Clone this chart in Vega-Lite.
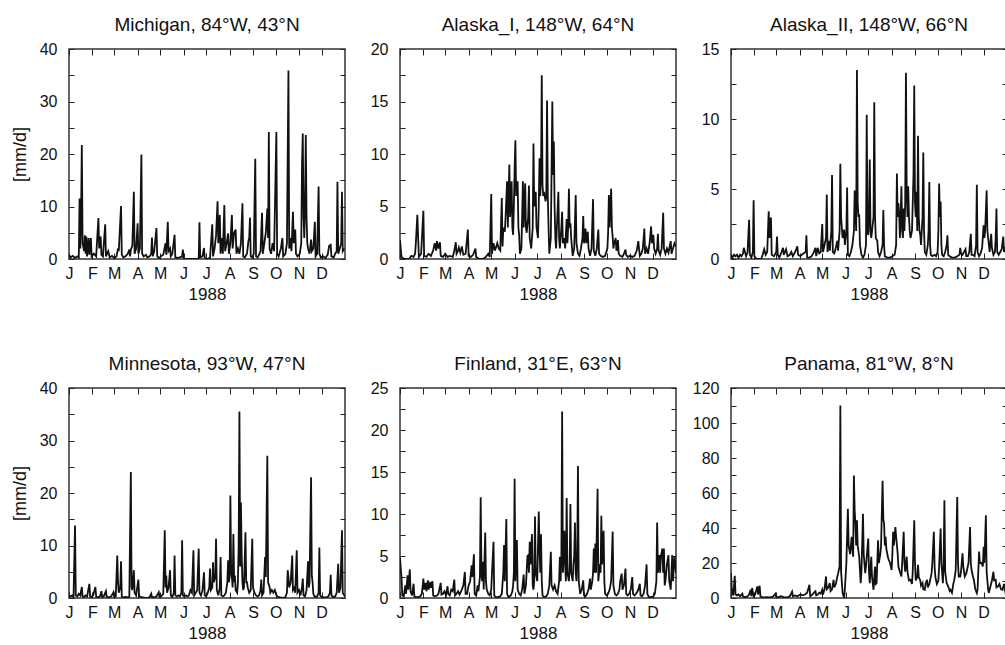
{
"$schema": "https://vega.github.io/schema/vega-lite/v6.json",
"background": "white",
"padding": {"left": 10, "top": 15, "right": 0, "bottom": 0},
"config": {
 "view": {"stroke": "#333", "strokeWidth": 1.5},
 "font": "Liberation Sans",
 "title": {"fontSize": 19, "fontWeight": "normal", "color": "#111", "font": "Liberation Sans", "offset": 6},
 "axis": {"domain": false, "grid": false, "tickSize": -5, "tickColor": "#222", "tickWidth": 1, "labelFont": "Liberation Sans", "labelFontSize": 16, "labelColor": "#111", "titleFont": "Liberation Sans", "titleFontSize": 17, "titleFontWeight": "normal", "titleColor": "#111", "labelOverlap": false, "labelFlush": false, "labelBound": false},
 "axisX": {"tickSize": -6, "labelPadding": 12, "labelAngle": 0, "titlePadding": 5},
 "axisY": {"labelPadding": 17, "titlePadding": 10, "titleFontSize": 18}
},
"bounds": "flush",
"columns": 3,
"spacing": {"row": 129, "column": 55},
"datasets": {
"mi": [{"d":0,"v":0.8},{"d":2,"v":0.3},{"d":5,"v":0.6},{"d":8,"v":0.2},{"d":11,"v":0.5},{"d":13,"v":0.3},{"d":14,"v":11.5},{"d":15,"v":2},{"d":16,"v":8},{"d":17,"v":21.7},{"d":18,"v":3},{"d":20,"v":1.5},{"d":21,"v":4.5},{"d":22,"v":1},{"d":23,"v":4.3},{"d":24,"v":0.5},{"d":26,"v":4},{"d":27,"v":0.8},{"d":29,"v":4},{"d":30,"v":0.5},{"d":33,"v":1},{"d":36,"v":0.5},{"d":39,"v":7.8},{"d":40,"v":2},{"d":42,"v":4.3},{"d":43,"v":0.8},{"d":45,"v":0.5},{"d":48,"v":6.6},{"d":49,"v":0.5},{"d":52,"v":1.5},{"d":54,"v":0.3},{"d":57,"v":0.6},{"d":60,"v":0.2},{"d":63,"v":0.5},{"d":65,"v":2},{"d":66,"v":1.5},{"d":69,"v":10.1},{"d":70,"v":0.8},{"d":72,"v":0.3},{"d":75,"v":0.5},{"d":78,"v":1},{"d":80,"v":1.8},{"d":81,"v":0.5},{"d":82,"v":1.8},{"d":84,"v":2.5},{"d":86,"v":12.8},{"d":87,"v":1},{"d":89,"v":2},{"d":91,"v":6.8},{"d":92,"v":1},{"d":94,"v":2},{"d":96,"v":19.9},{"d":97,"v":1},{"d":99,"v":0.5},{"d":102,"v":0.8},{"d":104,"v":0.3},{"d":107,"v":0.5},{"d":109,"v":1},{"d":110,"v":4.1},{"d":111,"v":0.5},{"d":113,"v":1.5},{"d":116,"v":5.9},{"d":117,"v":0.5},{"d":119,"v":0.2},{"d":122,"v":0.5},{"d":125,"v":0.8},{"d":128,"v":3},{"d":129,"v":0.8},{"d":131,"v":7.1},{"d":132,"v":1.5},{"d":134,"v":2},{"d":135,"v":0.5},{"d":137,"v":1},{"d":140,"v":4.6},{"d":141,"v":0.3},{"d":144,"v":0.2},{"d":147,"v":0.3},{"d":150,"v":0.5},{"d":151,"v":1.8},{"d":152,"v":0},{"d":172,"v":0},{"d":173,"v":7},{"d":174,"v":0.3},{"d":177,"v":0.5},{"d":179,"v":2.1},{"d":180,"v":0.2},{"d":183,"v":0},{"d":187,"v":0.2},{"d":190,"v":6.6},{"d":191,"v":0.5},{"d":193,"v":2},{"d":195,"v":4.5},{"d":197,"v":11},{"d":198,"v":3},{"d":199,"v":5},{"d":200,"v":8.4},{"d":201,"v":1},{"d":203,"v":4},{"d":204,"v":1},{"d":206,"v":10.3},{"d":207,"v":1.5},{"d":209,"v":3},{"d":211,"v":4.9},{"d":212,"v":1},{"d":214,"v":3},{"d":216,"v":8.4},{"d":217,"v":2},{"d":219,"v":5},{"d":221,"v":5.6},{"d":222,"v":1},{"d":224,"v":2},{"d":226,"v":1},{"d":228,"v":3},{"d":230,"v":10.6},{"d":231,"v":0.5},{"d":233,"v":0.3},{"d":236,"v":1},{"d":238,"v":3.5},{"d":239,"v":4},{"d":240,"v":7.9},{"d":241,"v":0.5},{"d":243,"v":0.3},{"d":245,"v":1},{"d":247,"v":19.1},{"d":248,"v":0.5},{"d":250,"v":0.3},{"d":252,"v":0.8},{"d":254,"v":1.5},{"d":256,"v":8.8},{"d":257,"v":1},{"d":259,"v":3},{"d":261,"v":5},{"d":263,"v":9.6},{"d":264,"v":4},{"d":265,"v":24.2},{"d":266,"v":2},{"d":268,"v":1},{"d":270,"v":3},{"d":272,"v":1.5},{"d":275,"v":24.2},{"d":276,"v":1},{"d":278,"v":0.5},{"d":281,"v":2},{"d":283,"v":4},{"d":284,"v":0.5},{"d":287,"v":1},{"d":289,"v":3},{"d":291,"v":35.9},{"d":292,"v":2},{"d":294,"v":4},{"d":295,"v":1.5},{"d":297,"v":9},{"d":298,"v":3},{"d":300,"v":5.6},{"d":301,"v":1},{"d":303,"v":0.5},{"d":306,"v":1},{"d":308,"v":3},{"d":309,"v":18},{"d":310,"v":23.9},{"d":311,"v":8},{"d":312,"v":4},{"d":313,"v":10},{"d":314,"v":23.6},{"d":315,"v":8},{"d":316,"v":3},{"d":317,"v":2},{"d":319,"v":1},{"d":321,"v":3.7},{"d":322,"v":1.5},{"d":324,"v":2},{"d":326,"v":7.1},{"d":327,"v":0.5},{"d":329,"v":1},{"d":331,"v":13.8},{"d":332,"v":1},{"d":334,"v":0.3},{"d":337,"v":0.5},{"d":340,"v":0.2},{"d":343,"v":0.8},{"d":345,"v":2.5},{"d":347,"v":2.7},{"d":348,"v":0.5},{"d":351,"v":0.3},{"d":353,"v":1},{"d":355,"v":1.5},{"d":356,"v":14.7},{"d":357,"v":1},{"d":359,"v":2},{"d":361,"v":3},{"d":362,"v":12.8},{"d":363,"v":1.5},{"d":365,"v":2}],
"a1": [{"d":0,"v":1.8},{"d":2,"v":0.2},{"d":5,"v":0},{"d":12,"v":0},{"d":15,"v":0.3},{"d":18,"v":0.2},{"d":20,"v":0.5},{"d":21,"v":1.5},{"d":23,"v":4.2},{"d":25,"v":0.2},{"d":28,"v":0.5},{"d":31,"v":4.6},{"d":32,"v":0.3},{"d":35,"v":0.2},{"d":38,"v":0.5},{"d":41,"v":0.3},{"d":44,"v":0.8},{"d":46,"v":1.5},{"d":48,"v":0.8},{"d":49,"v":1.7},{"d":51,"v":1},{"d":53,"v":1.6},{"d":54,"v":0.3},{"d":57,"v":0.2},{"d":60,"v":0.5},{"d":63,"v":0.2},{"d":66,"v":0.3},{"d":70,"v":0.2},{"d":72,"v":0.8},{"d":74,"v":1.6},{"d":75,"v":0.5},{"d":77,"v":0.8},{"d":78,"v":1.1},{"d":80,"v":0.6},{"d":82,"v":1.2},{"d":84,"v":0.4},{"d":87,"v":0.5},{"d":90,"v":2.8},{"d":91,"v":0.3},{"d":94,"v":0.2},{"d":97,"v":0.4},{"d":100,"v":1},{"d":101,"v":0.2},{"d":105,"v":0},{"d":110,"v":0},{"d":114,"v":0.2},{"d":117,"v":0.5},{"d":119,"v":0.2},{"d":121,"v":6.2},{"d":122,"v":0.5},{"d":124,"v":1.5},{"d":126,"v":0.8},{"d":129,"v":1.5},{"d":131,"v":1},{"d":133,"v":0.8},{"d":135,"v":5.8},{"d":136,"v":1.2},{"d":137,"v":3},{"d":139,"v":2.6},{"d":140,"v":4},{"d":142,"v":7.4},{"d":143,"v":3},{"d":145,"v":9},{"d":146,"v":4},{"d":148,"v":7.4},{"d":149,"v":3},{"d":150,"v":2.3},{"d":151,"v":5},{"d":152,"v":8.6},{"d":153,"v":11.3},{"d":154,"v":6},{"d":156,"v":7.4},{"d":157,"v":3},{"d":158,"v":2.3},{"d":159,"v":0.5},{"d":161,"v":1},{"d":163,"v":7.4},{"d":164,"v":3},{"d":165,"v":5},{"d":166,"v":7.2},{"d":167,"v":3},{"d":168,"v":2.5},{"d":170,"v":4},{"d":171,"v":7},{"d":172,"v":2},{"d":174,"v":1},{"d":176,"v":3},{"d":177,"v":11},{"d":178,"v":5},{"d":180,"v":6.4},{"d":181,"v":3},{"d":183,"v":2},{"d":184,"v":5},{"d":185,"v":9.6},{"d":186,"v":6},{"d":187,"v":8},{"d":188,"v":17.5},{"d":189,"v":7},{"d":190,"v":6},{"d":191,"v":6.4},{"d":193,"v":5.5},{"d":194,"v":6},{"d":195,"v":15.1},{"d":196,"v":6},{"d":197,"v":3},{"d":198,"v":0.5},{"d":200,"v":2},{"d":202,"v":15},{"d":203,"v":8},{"d":204,"v":11.2},{"d":205,"v":5},{"d":206,"v":2},{"d":207,"v":1},{"d":208,"v":3},{"d":210,"v":6.4},{"d":211,"v":2},{"d":212,"v":1},{"d":214,"v":3},{"d":215,"v":4.5},{"d":216,"v":1.5},{"d":218,"v":2},{"d":219,"v":1},{"d":221,"v":3.8},{"d":222,"v":1.5},{"d":223,"v":3},{"d":224,"v":6.7},{"d":225,"v":3},{"d":226,"v":3.4},{"d":227,"v":2},{"d":229,"v":0.3},{"d":231,"v":1},{"d":233,"v":6.1},{"d":234,"v":1.5},{"d":236,"v":0.5},{"d":238,"v":0.3},{"d":240,"v":1},{"d":242,"v":2},{"d":243,"v":4.1},{"d":244,"v":1.5},{"d":245,"v":2},{"d":246,"v":2.9},{"d":247,"v":1.5},{"d":249,"v":2.6},{"d":250,"v":1},{"d":252,"v":0.3},{"d":254,"v":1},{"d":256,"v":5.7},{"d":257,"v":0.8},{"d":259,"v":0.3},{"d":261,"v":1},{"d":263,"v":2.8},{"d":264,"v":0.5},{"d":266,"v":0.3},{"d":269,"v":0.2},{"d":272,"v":0.3},{"d":275,"v":1},{"d":276,"v":2.5},{"d":277,"v":6.1},{"d":278,"v":3},{"d":280,"v":6.7},{"d":281,"v":3},{"d":282,"v":2.1},{"d":283,"v":1},{"d":284,"v":1.5},{"d":286,"v":2},{"d":287,"v":0.8},{"d":288,"v":1},{"d":289,"v":1.8},{"d":290,"v":0.5},{"d":292,"v":0.3},{"d":295,"v":0.2},{"d":297,"v":0.5},{"d":299,"v":0.9},{"d":300,"v":0.4},{"d":302,"v":0.2},{"d":305,"v":0.3},{"d":308,"v":0.2},{"d":311,"v":0.3},{"d":314,"v":0.8},{"d":316,"v":1.7},{"d":317,"v":1},{"d":318,"v":0.3},{"d":320,"v":0.5},{"d":322,"v":1},{"d":324,"v":2.9},{"d":325,"v":0.5},{"d":327,"v":1},{"d":329,"v":0.5},{"d":331,"v":1.5},{"d":333,"v":3.1},{"d":334,"v":1.5},{"d":336,"v":2.3},{"d":337,"v":1},{"d":339,"v":0.5},{"d":341,"v":1},{"d":342,"v":2.4},{"d":343,"v":0.8},{"d":345,"v":0.4},{"d":347,"v":1},{"d":349,"v":4.4},{"d":350,"v":1},{"d":352,"v":0.5},{"d":354,"v":1},{"d":356,"v":0.6},{"d":359,"v":1.7},{"d":360,"v":0.5},{"d":362,"v":1},{"d":364,"v":1.5},{"d":366,"v":1.2}],
"a2": [{"d":0,"v":0.3},{"d":2,"v":0.1},{"d":4,"v":0.3},{"d":6,"v":0.2},{"d":8,"v":0.3},{"d":10,"v":0.1},{"d":12,"v":0.3},{"d":14,"v":0.2},{"d":16,"v":0.4},{"d":17,"v":0.8},{"d":18,"v":0.6},{"d":20,"v":0.2},{"d":22,"v":0.5},{"d":24,"v":2.8},{"d":25,"v":0.3},{"d":27,"v":0.1},{"d":29,"v":0.5},{"d":30,"v":4.2},{"d":31,"v":0.2},{"d":34,"v":0},{"d":40,"v":0},{"d":42,"v":0.3},{"d":44,"v":0.7},{"d":46,"v":0.3},{"d":48,"v":0.5},{"d":50,"v":3.4},{"d":51,"v":1.5},{"d":52,"v":2.9},{"d":53,"v":2.9},{"d":54,"v":0.3},{"d":57,"v":0.2},{"d":60,"v":0.5},{"d":61,"v":1.6},{"d":62,"v":0.3},{"d":64,"v":0.1},{"d":67,"v":0.5},{"d":69,"v":0.8},{"d":70,"v":0.3},{"d":73,"v":0.7},{"d":75,"v":0.2},{"d":78,"v":0.3},{"d":80,"v":0.5},{"d":82,"v":0.2},{"d":85,"v":0.5},{"d":88,"v":0.9},{"d":89,"v":0.3},{"d":92,"v":0.2},{"d":96,"v":0.4},{"d":99,"v":0.5},{"d":100,"v":1.7},{"d":101,"v":0.1},{"d":104,"v":0.1},{"d":107,"v":0.2},{"d":110,"v":0.5},{"d":112,"v":0.8},{"d":113,"v":0.2},{"d":115,"v":0.8},{"d":117,"v":0.4},{"d":119,"v":0.5},{"d":121,"v":2.5},{"d":122,"v":0.5},{"d":124,"v":1},{"d":126,"v":1.5},{"d":127,"v":4.6},{"d":128,"v":0.5},{"d":130,"v":1.3},{"d":131,"v":0.6},{"d":133,"v":2},{"d":134,"v":6},{"d":135,"v":0.5},{"d":137,"v":0.4},{"d":139,"v":0.8},{"d":141,"v":1.3},{"d":142,"v":0.6},{"d":144,"v":2},{"d":145,"v":6.8},{"d":146,"v":3},{"d":148,"v":1.5},{"d":150,"v":2.1},{"d":151,"v":1},{"d":153,"v":2},{"d":154,"v":5.1},{"d":155,"v":0.3},{"d":157,"v":0.2},{"d":159,"v":0.5},{"d":161,"v":1},{"d":163,"v":2},{"d":164,"v":4.9},{"d":165,"v":3.5},{"d":166,"v":2},{"d":167,"v":13.5},{"d":168,"v":4},{"d":169,"v":3},{"d":170,"v":3.2},{"d":171,"v":1},{"d":173,"v":0.3},{"d":175,"v":0.1},{"d":177,"v":0.3},{"d":179,"v":1},{"d":180,"v":10.3},{"d":181,"v":2},{"d":182,"v":1.7},{"d":183,"v":3},{"d":184,"v":7.1},{"d":185,"v":2},{"d":186,"v":1.5},{"d":187,"v":2},{"d":189,"v":3},{"d":190,"v":11.2},{"d":191,"v":3},{"d":192,"v":1.5},{"d":194,"v":1.3},{"d":195,"v":0.5},{"d":197,"v":0.2},{"d":199,"v":0.5},{"d":201,"v":1},{"d":202,"v":3.5},{"d":203,"v":1},{"d":204,"v":0.2},{"d":207,"v":0.1},{"d":211,"v":0.1},{"d":214,"v":0.2},{"d":217,"v":0.3},{"d":219,"v":1},{"d":220,"v":6.1},{"d":221,"v":3},{"d":222,"v":4},{"d":223,"v":3.2},{"d":224,"v":1.5},{"d":225,"v":3},{"d":226,"v":5.2},{"d":227,"v":2},{"d":228,"v":1.5},{"d":229,"v":3.6},{"d":230,"v":2},{"d":231,"v":4},{"d":232,"v":13.3},{"d":233,"v":5},{"d":234,"v":3},{"d":235,"v":5.2},{"d":236,"v":3},{"d":237,"v":2},{"d":238,"v":1.5},{"d":240,"v":2},{"d":241,"v":4},{"d":242,"v":6},{"d":243,"v":12.4},{"d":244,"v":4},{"d":245,"v":3},{"d":246,"v":4.8},{"d":247,"v":2},{"d":248,"v":8.8},{"d":249,"v":3},{"d":250,"v":2},{"d":251,"v":1.7},{"d":252,"v":1},{"d":254,"v":3},{"d":255,"v":7.6},{"d":256,"v":2},{"d":257,"v":0.5},{"d":259,"v":0.3},{"d":261,"v":1},{"d":262,"v":2},{"d":263,"v":5.5},{"d":264,"v":1},{"d":265,"v":0.3},{"d":267,"v":0.2},{"d":270,"v":0.3},{"d":272,"v":0.2},{"d":274,"v":0.5},{"d":275,"v":2},{"d":276,"v":5.4},{"d":277,"v":3},{"d":278,"v":4.1},{"d":279,"v":1},{"d":280,"v":0.3},{"d":282,"v":0.2},{"d":284,"v":0.5},{"d":286,"v":1},{"d":287,"v":1.7},{"d":288,"v":0.3},{"d":290,"v":0.2},{"d":293,"v":0.1},{"d":297,"v":0.1},{"d":300,"v":0.2},{"d":303,"v":0.3},{"d":304,"v":0.8},{"d":305,"v":0.4},{"d":307,"v":0.3},{"d":309,"v":0.5},{"d":311,"v":0.7},{"d":312,"v":0.2},{"d":314,"v":0.2},{"d":316,"v":0.5},{"d":318,"v":1.8},{"d":319,"v":0.3},{"d":321,"v":0.3},{"d":323,"v":0.2},{"d":325,"v":1},{"d":326,"v":5.3},{"d":327,"v":0.5},{"d":329,"v":0.2},{"d":331,"v":0.4},{"d":333,"v":0.8},{"d":335,"v":2.4},{"d":336,"v":1.5},{"d":337,"v":2},{"d":339,"v":4.9},{"d":340,"v":2},{"d":341,"v":1.5},{"d":343,"v":0.5},{"d":345,"v":1.8},{"d":346,"v":0.8},{"d":348,"v":0.3},{"d":350,"v":0.5},{"d":351,"v":1.5},{"d":352,"v":3.6},{"d":353,"v":0.5},{"d":355,"v":0.3},{"d":357,"v":0.5},{"d":359,"v":0.7},{"d":361,"v":1.6},{"d":362,"v":0.5},{"d":364,"v":0.8},{"d":366,"v":0.4}],
"mn": [{"d":0,"v":0.5},{"d":2,"v":0.3},{"d":4,"v":0.5},{"d":6,"v":0.2},{"d":8,"v":13.8},{"d":9,"v":0.5},{"d":11,"v":0.3},{"d":13,"v":0.8},{"d":15,"v":0.5},{"d":17,"v":2.1},{"d":18,"v":0.3},{"d":20,"v":0.2},{"d":22,"v":0.5},{"d":24,"v":0.3},{"d":27,"v":2.7},{"d":28,"v":0.3},{"d":30,"v":0.2},{"d":32,"v":0.5},{"d":35,"v":2.1},{"d":36,"v":0.3},{"d":38,"v":0.1},{"d":41,"v":0.3},{"d":43,"v":1.3},{"d":44,"v":0.2},{"d":46,"v":0.3},{"d":49,"v":1.3},{"d":50,"v":0.2},{"d":53,"v":0.1},{"d":56,"v":0.3},{"d":59,"v":1.1},{"d":60,"v":0.2},{"d":62,"v":0.3},{"d":64,"v":8.1},{"d":65,"v":3},{"d":66,"v":1},{"d":68,"v":2},{"d":69,"v":7},{"d":70,"v":0.3},{"d":72,"v":0.1},{"d":75,"v":0.2},{"d":78,"v":0.1},{"d":80,"v":0.3},{"d":82,"v":24},{"d":83,"v":2},{"d":84,"v":1.5},{"d":86,"v":5.3},{"d":87,"v":1},{"d":89,"v":0.5},{"d":92,"v":3.5},{"d":93,"v":0.3},{"d":95,"v":0.2},{"d":98,"v":0.1},{"d":101,"v":0},{"d":105,"v":0},{"d":107,"v":0.2},{"d":109,"v":0.8},{"d":110,"v":0.2},{"d":113,"v":0.1},{"d":116,"v":0.3},{"d":119,"v":1.1},{"d":120,"v":0.2},{"d":122,"v":0.3},{"d":125,"v":0.8},{"d":127,"v":12.9},{"d":128,"v":2},{"d":129,"v":4.3},{"d":130,"v":1},{"d":132,"v":2},{"d":134,"v":5.3},{"d":135,"v":0.5},{"d":137,"v":0.2},{"d":139,"v":1},{"d":140,"v":8.1},{"d":141,"v":0.5},{"d":143,"v":0.3},{"d":145,"v":0.5},{"d":147,"v":0.3},{"d":149,"v":1},{"d":150,"v":11},{"d":151,"v":0.5},{"d":153,"v":0.3},{"d":155,"v":0.5},{"d":157,"v":0.3},{"d":159,"v":0.5},{"d":161,"v":1.5},{"d":163,"v":1},{"d":165,"v":9.1},{"d":166,"v":0.5},{"d":168,"v":1},{"d":170,"v":1.5},{"d":172,"v":9.4},{"d":173,"v":1},{"d":175,"v":0.5},{"d":177,"v":1.5},{"d":179,"v":4.9},{"d":180,"v":0.5},{"d":182,"v":0.3},{"d":184,"v":1},{"d":186,"v":2},{"d":187,"v":5.6},{"d":188,"v":1.5},{"d":190,"v":2},{"d":191,"v":6.8},{"d":192,"v":3},{"d":194,"v":4},{"d":195,"v":11.3},{"d":196,"v":1.5},{"d":198,"v":0.5},{"d":200,"v":2},{"d":201,"v":7.8},{"d":202,"v":0.5},{"d":204,"v":0.3},{"d":206,"v":0.5},{"d":208,"v":1},{"d":210,"v":3},{"d":211,"v":7.2},{"d":212,"v":3},{"d":213,"v":4},{"d":214,"v":19.5},{"d":215,"v":5},{"d":216,"v":4},{"d":217,"v":2},{"d":218,"v":12.2},{"d":219,"v":3},{"d":220,"v":4.3},{"d":221,"v":1.5},{"d":223,"v":1},{"d":224,"v":3},{"d":225,"v":10},{"d":226,"v":35.5},{"d":227,"v":6},{"d":228,"v":18.2},{"d":229,"v":8},{"d":230,"v":3},{"d":231,"v":1.5},{"d":232,"v":2},{"d":234,"v":12.5},{"d":235,"v":3},{"d":236,"v":3},{"d":237,"v":2},{"d":239,"v":1},{"d":241,"v":1.5},{"d":243,"v":11.3},{"d":244,"v":2},{"d":246,"v":1},{"d":248,"v":0.5},{"d":250,"v":0.3},{"d":252,"v":0.5},{"d":254,"v":1.5},{"d":255,"v":3.5},{"d":256,"v":0.5},{"d":258,"v":1},{"d":260,"v":7.8},{"d":261,"v":4},{"d":263,"v":27.1},{"d":264,"v":3},{"d":266,"v":2.1},{"d":267,"v":1},{"d":269,"v":1.5},{"d":271,"v":1},{"d":273,"v":1.5},{"d":275,"v":0.5},{"d":277,"v":0.2},{"d":280,"v":0.1},{"d":284,"v":0},{"d":287,"v":0.2},{"d":289,"v":1},{"d":290,"v":5.3},{"d":291,"v":4},{"d":292,"v":2},{"d":294,"v":3},{"d":296,"v":8.1},{"d":297,"v":1.5},{"d":299,"v":2},{"d":300,"v":1},{"d":302,"v":9.1},{"d":303,"v":1},{"d":305,"v":1.5},{"d":307,"v":0.5},{"d":309,"v":2},{"d":310,"v":3.7},{"d":311,"v":0.5},{"d":313,"v":0.3},{"d":315,"v":1.5},{"d":317,"v":7},{"d":318,"v":2},{"d":319,"v":3},{"d":321,"v":23},{"d":322,"v":4.3},{"d":323,"v":3},{"d":324,"v":0.8},{"d":326,"v":0.2},{"d":329,"v":0.3},{"d":331,"v":1},{"d":332,"v":9.6},{"d":333,"v":0.5},{"d":335,"v":0.2},{"d":338,"v":0.1},{"d":341,"v":0.1},{"d":344,"v":0.3},{"d":346,"v":1},{"d":347,"v":4.4},{"d":348,"v":0.5},{"d":350,"v":0.2},{"d":353,"v":0.3},{"d":355,"v":1},{"d":357,"v":6.5},{"d":358,"v":1},{"d":360,"v":2},{"d":362,"v":12.9},{"d":363,"v":1},{"d":365,"v":0.5},{"d":366,"v":0.3}],
"fi": [{"d":0,"v":4.8},{"d":1,"v":3.5},{"d":2,"v":2.5},{"d":3,"v":0.3},{"d":5,"v":0.2},{"d":7,"v":1.5},{"d":8,"v":0.5},{"d":10,"v":2.7},{"d":11,"v":1},{"d":13,"v":3.4},{"d":14,"v":0.8},{"d":16,"v":0.3},{"d":18,"v":1.7},{"d":19,"v":0.2},{"d":21,"v":0.1},{"d":24,"v":0.1},{"d":27,"v":0.2},{"d":29,"v":0.5},{"d":31,"v":2.3},{"d":32,"v":1},{"d":34,"v":1.8},{"d":35,"v":0.8},{"d":37,"v":2.1},{"d":38,"v":1},{"d":40,"v":1.9},{"d":41,"v":1.2},{"d":43,"v":2},{"d":44,"v":0.3},{"d":46,"v":0.2},{"d":49,"v":0.3},{"d":51,"v":0.5},{"d":54,"v":1.8},{"d":55,"v":0.4},{"d":57,"v":0.5},{"d":59,"v":0.8},{"d":61,"v":0.3},{"d":63,"v":1.4},{"d":64,"v":0.5},{"d":66,"v":0.3},{"d":68,"v":1},{"d":70,"v":0.8},{"d":72,"v":2.2},{"d":73,"v":0.3},{"d":75,"v":0.5},{"d":77,"v":0.8},{"d":79,"v":0.4},{"d":82,"v":1},{"d":84,"v":1.5},{"d":86,"v":3.1},{"d":87,"v":0.5},{"d":89,"v":0.5},{"d":91,"v":1.5},{"d":93,"v":2},{"d":95,"v":3.9},{"d":96,"v":2.5},{"d":98,"v":5.2},{"d":99,"v":0.5},{"d":101,"v":0.3},{"d":103,"v":1.5},{"d":104,"v":0.8},{"d":106,"v":2.5},{"d":107,"v":12},{"d":108,"v":3},{"d":109,"v":2},{"d":110,"v":4.3},{"d":111,"v":1},{"d":113,"v":7.8},{"d":114,"v":2},{"d":115,"v":1},{"d":117,"v":0.5},{"d":119,"v":0.3},{"d":121,"v":1},{"d":122,"v":3},{"d":124,"v":6.7},{"d":125,"v":0.3},{"d":127,"v":0.1},{"d":130,"v":0.1},{"d":133,"v":0.2},{"d":135,"v":0.5},{"d":137,"v":3},{"d":138,"v":6.3},{"d":139,"v":2},{"d":141,"v":9.4},{"d":142,"v":0.5},{"d":144,"v":0.1},{"d":147,"v":0.3},{"d":149,"v":0.8},{"d":150,"v":1.5},{"d":151,"v":3},{"d":152,"v":14.2},{"d":153,"v":2},{"d":155,"v":6.9},{"d":156,"v":1},{"d":158,"v":0.5},{"d":160,"v":0.3},{"d":162,"v":1},{"d":164,"v":2.8},{"d":165,"v":0.5},{"d":167,"v":1.5},{"d":169,"v":5},{"d":170,"v":5.1},{"d":171,"v":3},{"d":172,"v":6.7},{"d":173,"v":4},{"d":175,"v":7.6},{"d":176,"v":1.5},{"d":177,"v":1},{"d":178,"v":2},{"d":179,"v":9.7},{"d":180,"v":3},{"d":182,"v":2},{"d":184,"v":10.3},{"d":185,"v":6},{"d":186,"v":3},{"d":187,"v":7.6},{"d":188,"v":2},{"d":189,"v":0.3},{"d":191,"v":0.1},{"d":194,"v":0.2},{"d":196,"v":0.5},{"d":198,"v":1.5},{"d":200,"v":5.5},{"d":201,"v":1.5},{"d":203,"v":1},{"d":205,"v":1.5},{"d":207,"v":0.8},{"d":209,"v":0.5},{"d":211,"v":2},{"d":212,"v":4.9},{"d":213,"v":2},{"d":214,"v":5},{"d":215,"v":22.2},{"d":216,"v":3},{"d":217,"v":5},{"d":218,"v":8},{"d":219,"v":4},{"d":220,"v":2},{"d":221,"v":11.9},{"d":222,"v":3},{"d":224,"v":2},{"d":225,"v":4},{"d":226,"v":11.2},{"d":227,"v":3},{"d":229,"v":2},{"d":230,"v":4},{"d":231,"v":5},{"d":232,"v":9},{"d":233,"v":3},{"d":234,"v":2},{"d":235,"v":5},{"d":236,"v":15.7},{"d":237,"v":2},{"d":239,"v":0.5},{"d":241,"v":1},{"d":243,"v":2.1},{"d":244,"v":0.3},{"d":246,"v":0.2},{"d":248,"v":0.5},{"d":250,"v":1},{"d":252,"v":2.3},{"d":253,"v":1},{"d":255,"v":2},{"d":256,"v":3},{"d":257,"v":5.9},{"d":258,"v":3},{"d":259,"v":6.5},{"d":260,"v":3},{"d":262,"v":13},{"d":263,"v":2},{"d":265,"v":4},{"d":266,"v":3},{"d":267,"v":9.8},{"d":268,"v":4},{"d":270,"v":8},{"d":271,"v":2},{"d":272,"v":0.5},{"d":274,"v":0.3},{"d":276,"v":0.5},{"d":278,"v":1},{"d":280,"v":2},{"d":282,"v":7.9},{"d":283,"v":1.5},{"d":285,"v":0.5},{"d":287,"v":0.3},{"d":289,"v":0.5},{"d":291,"v":1},{"d":292,"v":2},{"d":294,"v":2.9},{"d":295,"v":1},{"d":297,"v":1.5},{"d":299,"v":3.5},{"d":300,"v":0.5},{"d":302,"v":0.3},{"d":304,"v":0.5},{"d":306,"v":1},{"d":308,"v":2.5},{"d":309,"v":0.5},{"d":311,"v":0.3},{"d":313,"v":0.5},{"d":315,"v":0.8},{"d":316,"v":1},{"d":318,"v":1.7},{"d":319,"v":0.3},{"d":321,"v":0.2},{"d":323,"v":0.5},{"d":325,"v":1.5},{"d":327,"v":4},{"d":328,"v":0.5},{"d":330,"v":0.1},{"d":333,"v":0.1},{"d":336,"v":0.2},{"d":338,"v":0.5},{"d":340,"v":2},{"d":341,"v":9},{"d":342,"v":3},{"d":343,"v":4},{"d":344,"v":5.1},{"d":345,"v":3},{"d":346,"v":5},{"d":348,"v":5.9},{"d":349,"v":3},{"d":350,"v":5.9},{"d":351,"v":1.5},{"d":352,"v":2},{"d":354,"v":4},{"d":356,"v":5.1},{"d":357,"v":2},{"d":359,"v":1},{"d":361,"v":5.1},{"d":362,"v":2},{"d":364,"v":5},{"d":366,"v":3}],
"pa": [{"d":0,"v":14.2},{"d":1,"v":5},{"d":2,"v":2.8},{"d":3,"v":1.5},{"d":5,"v":12.7},{"d":6,"v":2},{"d":8,"v":1.5},{"d":10,"v":2},{"d":12,"v":1},{"d":15,"v":2.5},{"d":16,"v":0.8},{"d":19,"v":0.5},{"d":22,"v":1},{"d":24,"v":2},{"d":26,"v":4.7},{"d":27,"v":1},{"d":28,"v":5.7},{"d":30,"v":1},{"d":32,"v":2},{"d":35,"v":6.6},{"d":36,"v":2},{"d":38,"v":7},{"d":39,"v":1},{"d":41,"v":0.5},{"d":44,"v":0.3},{"d":48,"v":0.5},{"d":52,"v":0.3},{"d":56,"v":1},{"d":59,"v":2.5},{"d":60,"v":0.5},{"d":63,"v":0.5},{"d":66,"v":1},{"d":70,"v":0.5},{"d":74,"v":0.3},{"d":78,"v":1},{"d":81,"v":3.6},{"d":82,"v":1},{"d":85,"v":1.5},{"d":88,"v":1},{"d":92,"v":2},{"d":95,"v":1.5},{"d":98,"v":2},{"d":101,"v":3},{"d":104,"v":7.6},{"d":105,"v":1},{"d":108,"v":2},{"d":110,"v":3},{"d":112,"v":3.8},{"d":113,"v":1.5},{"d":115,"v":2},{"d":117,"v":3},{"d":119,"v":2.5},{"d":121,"v":4.7},{"d":122,"v":2},{"d":124,"v":5},{"d":126,"v":12.3},{"d":127,"v":5},{"d":129,"v":6},{"d":131,"v":8.5},{"d":132,"v":4},{"d":134,"v":5},{"d":136,"v":10.4},{"d":137,"v":6},{"d":139,"v":8},{"d":141,"v":12.3},{"d":142,"v":14},{"d":144,"v":18},{"d":145,"v":110},{"d":146,"v":15},{"d":148,"v":3},{"d":150,"v":0},{"d":151,"v":5},{"d":153,"v":20},{"d":155,"v":51},{"d":156,"v":30},{"d":157,"v":27.4},{"d":158,"v":25},{"d":160,"v":35},{"d":161,"v":28},{"d":162,"v":23.6},{"d":163,"v":70},{"d":164,"v":50},{"d":165,"v":42.5},{"d":166,"v":30},{"d":167,"v":44.4},{"d":168,"v":30},{"d":170,"v":23.6},{"d":172,"v":8.5},{"d":173,"v":15},{"d":175,"v":48.2},{"d":176,"v":25},{"d":178,"v":14.2},{"d":179,"v":18},{"d":180,"v":23.6},{"d":182,"v":34},{"d":183,"v":15},{"d":184,"v":8.5},{"d":186,"v":23.6},{"d":187,"v":12},{"d":189,"v":4.7},{"d":190,"v":12},{"d":191,"v":18},{"d":192,"v":8},{"d":193,"v":8.5},{"d":194,"v":20},{"d":195,"v":33},{"d":196,"v":20},{"d":198,"v":25},{"d":199,"v":30},{"d":201,"v":67},{"d":202,"v":45},{"d":203,"v":42.5},{"d":204,"v":30},{"d":205,"v":35},{"d":206,"v":28},{"d":208,"v":23.6},{"d":209,"v":22},{"d":211,"v":20},{"d":213,"v":16},{"d":214,"v":25},{"d":215,"v":37.8},{"d":216,"v":30},{"d":218,"v":40.6},{"d":219,"v":35},{"d":221,"v":25.5},{"d":222,"v":18},{"d":224,"v":15},{"d":226,"v":12.3},{"d":227,"v":20},{"d":229,"v":37.8},{"d":230,"v":20},{"d":231,"v":15},{"d":233,"v":23.6},{"d":234,"v":15},{"d":236,"v":10},{"d":238,"v":10.4},{"d":240,"v":8},{"d":241,"v":15},{"d":243,"v":44.4},{"d":244,"v":20},{"d":245,"v":10},{"d":247,"v":12},{"d":248,"v":18.9},{"d":249,"v":12},{"d":251,"v":10},{"d":252,"v":7},{"d":254,"v":8.5},{"d":255,"v":5},{"d":257,"v":4.7},{"d":258,"v":8},{"d":260,"v":10.4},{"d":261,"v":6},{"d":263,"v":8},{"d":264,"v":10},{"d":266,"v":14.2},{"d":267,"v":20},{"d":269,"v":37.8},{"d":270,"v":18},{"d":271,"v":12},{"d":273,"v":8},{"d":275,"v":10},{"d":276,"v":18},{"d":278,"v":39.7},{"d":279,"v":20},{"d":281,"v":8.5},{"d":282,"v":20},{"d":283,"v":55.8},{"d":284,"v":15},{"d":286,"v":8.5},{"d":288,"v":6.6},{"d":290,"v":4},{"d":291,"v":4.7},{"d":293,"v":3},{"d":295,"v":8.5},{"d":296,"v":10},{"d":298,"v":16},{"d":300,"v":57.7},{"d":301,"v":20},{"d":302,"v":12.3},{"d":304,"v":12.3},{"d":305,"v":15},{"d":307,"v":25.5},{"d":308,"v":18},{"d":310,"v":12.3},{"d":312,"v":14},{"d":313,"v":16},{"d":315,"v":20},{"d":317,"v":40.6},{"d":318,"v":20},{"d":319,"v":16},{"d":321,"v":12},{"d":322,"v":10.4},{"d":324,"v":5},{"d":326,"v":2.8},{"d":327,"v":5},{"d":329,"v":26.5},{"d":330,"v":20},{"d":332,"v":20},{"d":334,"v":18},{"d":335,"v":29.3},{"d":336,"v":20},{"d":338,"v":47.3},{"d":339,"v":15},{"d":341,"v":4.7},{"d":342,"v":3},{"d":344,"v":6.6},{"d":346,"v":10},{"d":348,"v":15},{"d":349,"v":10},{"d":351,"v":10.4},{"d":352,"v":6},{"d":354,"v":6.6},{"d":356,"v":8},{"d":358,"v":5},{"d":360,"v":4.7},{"d":362,"v":8},{"d":364,"v":3},{"d":366,"v":5}]
},
"concat": [
 {"title": "Michigan, 84°W, 43°N", "width": 276, "height": 210, "data": {"name": "mi"},
  "layer": [
   {"mark": {"type": "line", "color": "#111", "strokeWidth": 1.8, "clip": true},
    "encoding": {
     "x": {"field": "d", "type": "quantitative", "scale": {"domain": [0, 366], "nice": false, "zero": false}, "axis": {"orient": "bottom", "values": [0,31,60,91,121,152,182,213,244,274,305,335], "labelExpr": "['J','F','M','A','M','J','J','A','S','O','N','D'][indexof([0,31,60,91,121,152,182,213,244,274,305,335], datum.value)]", "title": "1988"}},
     "y": {"field": "v", "type": "quantitative", "scale": {"domain": [0, 40], "nice": false}, "axis": {"orient": "left", "values": [0,5,10,15,20,25,30,35,40], "labelExpr": "datum.value % 10 == 0 ? datum.label : ''", "title": "[mm/d]"}}}},
   {"mark": {"type": "line", "opacity": 0},
    "encoding": {
     "x": {"field": "d", "type": "quantitative", "axis": {"orient": "top", "values": [0,31,60,91,121,152,182,213,244,274,305,335], "labels": false, "title": null}},
     "y": {"field": "v", "type": "quantitative", "axis": {"orient": "right", "values": [0,5,10,15,20,25,30,35,40], "labels": false, "title": null}}}}
  ],
  "resolve": {"axis": {"x": "independent", "y": "independent"}}},
 {"title": "Alaska_I, 148°W, 64°N", "width": 276, "height": 210, "data": {"name": "a1"},
  "layer": [
   {"mark": {"type": "line", "color": "#111", "strokeWidth": 1.8, "clip": true},
    "encoding": {
     "x": {"field": "d", "type": "quantitative", "scale": {"domain": [0, 366], "nice": false, "zero": false}, "axis": {"orient": "bottom", "values": [0,31,60,91,121,152,182,213,244,274,305,335], "labelExpr": "['J','F','M','A','M','J','J','A','S','O','N','D'][indexof([0,31,60,91,121,152,182,213,244,274,305,335], datum.value)]", "title": "1988"}},
     "y": {"field": "v", "type": "quantitative", "scale": {"domain": [0, 20], "nice": false}, "axis": {"orient": "left", "values": [0,2.5,5,7.5,10,12.5,15,17.5,20], "labelExpr": "datum.value % 5 == 0 ? datum.label : ''", "title": null}}}},
   {"mark": {"type": "line", "opacity": 0},
    "encoding": {
     "x": {"field": "d", "type": "quantitative", "axis": {"orient": "top", "values": [0,31,60,91,121,152,182,213,244,274,305,335], "labels": false, "title": null}},
     "y": {"field": "v", "type": "quantitative", "axis": {"orient": "right", "values": [0,2.5,5,7.5,10,12.5,15,17.5,20], "labels": false, "title": null}}}}
  ],
  "resolve": {"axis": {"x": "independent", "y": "independent"}}},
 {"title": "Alaska_II, 148°W, 66°N", "width": 276, "height": 210, "data": {"name": "a2"},
  "layer": [
   {"mark": {"type": "line", "color": "#111", "strokeWidth": 1.8, "clip": true},
    "encoding": {
     "x": {"field": "d", "type": "quantitative", "scale": {"domain": [0, 366], "nice": false, "zero": false}, "axis": {"orient": "bottom", "values": [0,31,60,91,121,152,182,213,244,274,305,335], "labelExpr": "['J','F','M','A','M','J','J','A','S','O','N','D'][indexof([0,31,60,91,121,152,182,213,244,274,305,335], datum.value)]", "title": "1988"}},
     "y": {"field": "v", "type": "quantitative", "scale": {"domain": [0, 15], "nice": false}, "axis": {"orient": "left", "values": [0,2.5,5,7.5,10,12.5,15], "labelExpr": "datum.value % 5 == 0 ? datum.label : ''", "title": null}}}},
   {"mark": {"type": "line", "opacity": 0},
    "encoding": {
     "x": {"field": "d", "type": "quantitative", "axis": {"orient": "top", "values": [0,31,60,91,121,152,182,213,244,274,305,335], "labels": false, "title": null}},
     "y": {"field": "v", "type": "quantitative", "axis": {"orient": "right", "values": [0,2.5,5,7.5,10,12.5,15], "labels": false, "title": null}}}}
  ],
  "resolve": {"axis": {"x": "independent", "y": "independent"}}},
 {"title": "Minnesota, 93°W, 47°N", "width": 276, "height": 210, "data": {"name": "mn"},
  "layer": [
   {"mark": {"type": "line", "color": "#111", "strokeWidth": 1.8, "clip": true},
    "encoding": {
     "x": {"field": "d", "type": "quantitative", "scale": {"domain": [0, 366], "nice": false, "zero": false}, "axis": {"orient": "bottom", "values": [0,31,60,91,121,152,182,213,244,274,305,335], "labelExpr": "['J','F','M','A','M','J','J','A','S','O','N','D'][indexof([0,31,60,91,121,152,182,213,244,274,305,335], datum.value)]", "title": "1988"}},
     "y": {"field": "v", "type": "quantitative", "scale": {"domain": [0, 40], "nice": false}, "axis": {"orient": "left", "values": [0,5,10,15,20,25,30,35,40], "labelExpr": "datum.value % 10 == 0 ? datum.label : ''", "title": "[mm/d]"}}}},
   {"mark": {"type": "line", "opacity": 0},
    "encoding": {
     "x": {"field": "d", "type": "quantitative", "axis": {"orient": "top", "values": [0,31,60,91,121,152,182,213,244,274,305,335], "labels": false, "title": null}},
     "y": {"field": "v", "type": "quantitative", "axis": {"orient": "right", "values": [0,5,10,15,20,25,30,35,40], "labels": false, "title": null}}}}
  ],
  "resolve": {"axis": {"x": "independent", "y": "independent"}}},
 {"title": "Finland, 31°E, 63°N", "width": 276, "height": 210, "data": {"name": "fi"},
  "layer": [
   {"mark": {"type": "line", "color": "#111", "strokeWidth": 1.8, "clip": true},
    "encoding": {
     "x": {"field": "d", "type": "quantitative", "scale": {"domain": [0, 366], "nice": false, "zero": false}, "axis": {"orient": "bottom", "values": [0,31,60,91,121,152,182,213,244,274,305,335], "labelExpr": "['J','F','M','A','M','J','J','A','S','O','N','D'][indexof([0,31,60,91,121,152,182,213,244,274,305,335], datum.value)]", "title": "1988"}},
     "y": {"field": "v", "type": "quantitative", "scale": {"domain": [0, 25], "nice": false}, "axis": {"orient": "left", "values": [0,2.5,5,7.5,10,12.5,15,17.5,20,22.5,25], "labelExpr": "datum.value % 5 == 0 ? datum.label : ''", "title": null}}}},
   {"mark": {"type": "line", "opacity": 0},
    "encoding": {
     "x": {"field": "d", "type": "quantitative", "axis": {"orient": "top", "values": [0,31,60,91,121,152,182,213,244,274,305,335], "labels": false, "title": null}},
     "y": {"field": "v", "type": "quantitative", "axis": {"orient": "right", "values": [0,2.5,5,7.5,10,12.5,15,17.5,20,22.5,25], "labels": false, "title": null}}}}
  ],
  "resolve": {"axis": {"x": "independent", "y": "independent"}}},
 {"title": "Panama, 81°W, 8°N", "width": 276, "height": 210, "data": {"name": "pa"},
  "layer": [
   {"mark": {"type": "line", "color": "#111", "strokeWidth": 1.8, "clip": true},
    "encoding": {
     "x": {"field": "d", "type": "quantitative", "scale": {"domain": [0, 366], "nice": false, "zero": false}, "axis": {"orient": "bottom", "values": [0,31,60,91,121,152,182,213,244,274,305,335], "labelExpr": "['J','F','M','A','M','J','J','A','S','O','N','D'][indexof([0,31,60,91,121,152,182,213,244,274,305,335], datum.value)]", "title": "1988"}},
     "y": {"field": "v", "type": "quantitative", "scale": {"domain": [0, 120], "nice": false}, "axis": {"orient": "left", "values": [0,10,20,30,40,50,60,70,80,90,100,110,120], "labelExpr": "datum.value % 20 == 0 ? datum.label : ''", "title": null}}}},
   {"mark": {"type": "line", "opacity": 0},
    "encoding": {
     "x": {"field": "d", "type": "quantitative", "axis": {"orient": "top", "values": [0,31,60,91,121,152,182,213,244,274,305,335], "labels": false, "title": null}},
     "y": {"field": "v", "type": "quantitative", "axis": {"orient": "right", "values": [0,10,20,30,40,50,60,70,80,90,100,110,120], "labels": false, "title": null}}}}
  ],
  "resolve": {"axis": {"x": "independent", "y": "independent"}}}
]
}
